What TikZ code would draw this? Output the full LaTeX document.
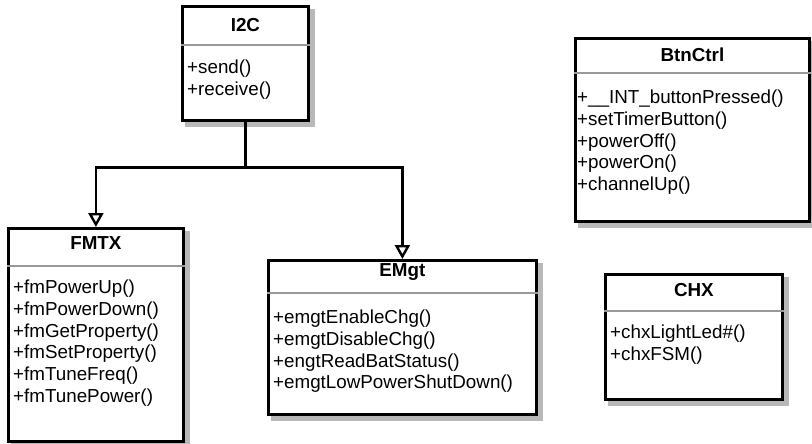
\documentclass[tikz,border=0pt]{standalone}
\usepackage{fontspec}
\setmainfont{Liberation Sans}
\usetikzlibrary{positioning,arrows.meta,backgrounds}
\newcommand{\umlFontSize}{\fontsize{18.8}{21.7}\selectfont}
\newcommand{\umlLine}{2.8pt}

\tikzset{
  umlclass/.style={draw, line width=\umlLine, fill=white, anchor=north west, inner sep=0pt},
  umlshadow/.style={fill=black!28},
  umlname/.style={font=\umlFontSize\bfseries, inner sep=0pt},
  umlsep/.style={draw=black!40, line width=1.4pt},
  umlops/.style={font=\umlFontSize, align=left, anchor=north west, inner sep=0pt},
  inherit/.style={line width=\umlLine, -{Triangle[open, fill=white, length=14pt, width=15pt, line width=2.4pt]}},
}

\begin{document}
\begin{tikzpicture}[x=1pt, y=-1pt]
	\useasboundingbox (0,0) rectangle (812,444);
		% I2C
		\node[umlclass, minimum width=126pt, minimum height=114pt] (i2c) at (181,5) {};
		\node[umlname] (i2cName) at ([yshift=-20pt]i2c.north) {I2C};
		\draw[umlsep] ([yshift=-40pt]i2c.north west) -- ([yshift=-40pt]i2c.north east);
		\node[umlops] (i2cOps) at ([xshift=6pt,yshift=-55pt]i2c.north west) {+send()\\+receive()};

		% FMTX
		\node[umlclass, minimum width=175pt, minimum height=213pt] (fmtx) at (7,227) {};
		\node[umlname] (fmtxName) at ([yshift=-16pt]fmtx.north) {FMTX};
		\draw[umlsep] ([yshift=-39pt]fmtx.north west) -- ([yshift=-39pt]fmtx.north east);
		\node[umlops] (fmtxOps) at ([xshift=6pt,yshift=-53pt]fmtx.north west)
			{+fmPowerUp()\\+fmPowerDown()\\+fmGetProperty()\\+fmSetProperty()\\+fmTuneFreq()\\+fmTunePower()};

		% EMgt
		\node[umlclass, minimum width=268pt, minimum height=154pt] (emgt) at (267,259) {};
		\node[umlname] (emgtName) at ([yshift=-13pt]emgt.north) {EMgt};
		\draw[umlsep] ([yshift=-34pt]emgt.north west) -- ([yshift=-34pt]emgt.north east);
		\node[umlops] (emgtOps) at ([xshift=6pt,yshift=-51pt]emgt.north west)
			{+emgtEnableChg()\\+emgtDisableChg()\\+engtReadBatStatus()\\+emgtLowPowerShutDown()};

		% BtnCtrl
		\node[umlclass, minimum width=234pt, minimum height=183pt] (btnctrl) at (574,37) {};
		\node[umlname] (btnctrlName) at ([yshift=-18pt]btnctrl.north) {BtnCtrl};
		\draw[umlsep] ([yshift=-36pt]btnctrl.north west) -- ([yshift=-36pt]btnctrl.north east);
		\node[umlops] (btnctrlOps) at ([xshift=3pt,yshift=-53pt]btnctrl.north west)
			{+\_\_INT\_buttonPressed()\\+setTimerButton()\\+powerOff()\\+powerOn()\\+channelUp()};

		% CHX
		\node[umlclass, minimum width=177pt, minimum height=125pt] (chx) at (604,273) {};
		\node[umlname] (chxName) at ([yshift=-17pt]chx.north) {CHX};
		\draw[umlsep] ([yshift=-38pt]chx.north west) -- ([yshift=-38pt]chx.north east);
		\node[umlops] (chxOps) at ([xshift=6pt,yshift=-52pt]chx.north west)
			{+chxLightLed\#()\\+chxFSM()};

		% shadows
		\begin{scope}[on background layer]
			\foreach \cls in {i2c,fmtx,emgt,btnctrl,chx}
				\fill[umlshadow] ([xshift=4pt,yshift=-4pt]\cls.north west) rectangle ([xshift=5.5pt,yshift=-5.5pt]\cls.south east);
		\end{scope}

		% generalisation
		\coordinate (fork) at ([yshift=-46pt]i2c.south);
		\draw[line width=\umlLine] (i2c.south) -- (fork);
		\draw[inherit] (fork) -| (fmtx.north);
		\draw[inherit] (fork) -| (emgt.north);
\end{tikzpicture}
\end{document}
